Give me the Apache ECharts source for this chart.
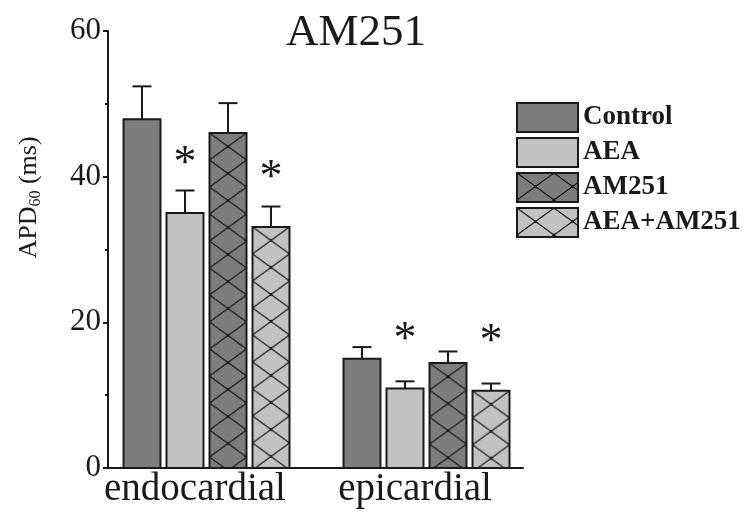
<!DOCTYPE html>
<html>
<head>
<meta charset="utf-8">
<script src="https://cdn.jsdelivr.net/npm/echarts@6/dist/echarts.min.js"></script>
<style>
  html, body { margin: 0; padding: 0; background: #fff; }
  #chart { width: 746px; height: 515px; }
</style>
</head>
<body>
<div id="chart"></div>
<script>
// Action potential duration (APD60, ms), mean and SEM per preparation
const categories = ['endocardial', 'epicardial'];
const seriesNames = ['Control', 'AEA', 'AM251', 'AEA+AM251'];

const controlMean  = [47.9, 15.0];
const controlErr   = [4.5, 1.6];
const aeaMean      = [35.0, 10.9];
const aeaErr       = [3.1, 1.0];
const am251Mean    = [46.0, 14.4];
const am251Err     = [4.1, 1.6];
const aeaAm251Mean = [33.1, 10.6];
const aeaAm251Err  = [2.8, 1.0];

// significance marks drawn above the bars
const aeaMarks      = ['*', '*'];
const aeaAm251Marks = ['*', '*'];

const yMin = 0, yMax = 60, yStep = 20;

// ---- styling ----
const FONT = '"Liberation Serif", "Times New Roman", serif';
const INK = '#1a1a1a';
const DARK = '#7d7d7d';
const LIGHT = '#c2c2c2';
const BAR_W = 37;      // bar width, px
const BAR_STEP = 43;   // distance between bar centres within a group
const CAP_W = 19;      // error-bar cap width
const STAR_GAP = 48;   // asterisk offset above bar top

function hatch(fill) {
  const w = 37, h = 27;
  const c = document.createElement('canvas');
  c.width = w; c.height = h;
  const g = c.getContext('2d');
  g.fillStyle = fill;
  g.fillRect(0, 0, w, h);
  g.strokeStyle = INK;
  g.lineWidth = 1.2;
  for (const dx of [-w, 0, w]) {
    for (const dy of [-h, 0, h]) {
      g.beginPath();
      g.moveTo(dx, dy); g.lineTo(dx + w, dy + h);
      g.moveTo(dx + w, dy); g.lineTo(dx, dy + h);
      g.stroke();
    }
  }
  g.fillStyle = INK;
  for (const [x, y] of [[0, 0], [w, 0], [0, h], [w, h], [w / 2, h / 2]]) {
    g.beginPath(); g.arc(x, y, 1.4, 0, Math.PI * 2); g.fill();
  }
  return { image: c, repeat: 'repeat' };
}

const groups = [
  { name: seriesNames[0], mean: controlMean,  err: controlErr,  marks: null,          fill: DARK },
  { name: seriesNames[1], mean: aeaMean,      err: aeaErr,      marks: aeaMarks,      fill: LIGHT },
  { name: seriesNames[2], mean: am251Mean,    err: am251Err,    marks: null,          fill: hatch(DARK) },
  { name: seriesNames[3], mean: aeaAm251Mean, err: aeaAm251Err, marks: aeaAm251Marks, fill: hatch(LIGHT) }
];

function makeRender(k, fill, marks) {
  return function (params, api) {
    const ci = api.value(0), v = api.value(1), e = api.value(2);
    const base = api.coord([ci, 0]);
    const top = api.coord([ci, v]);
    const cap = api.coord([ci, v + e]);
    const cx = Math.round(base[0] + (k - 1.5) * BAR_STEP);
    const x0 = cx - BAR_W / 2;
    const h = base[1] - top[1];
    const children = [
      { type: 'line', shape: { x1: cx, y1: top[1], x2: cx, y2: cap[1] },
        style: { stroke: INK, lineWidth: 2 } },
      { type: 'line', shape: { x1: cx - CAP_W / 2, y1: cap[1], x2: cx + CAP_W / 2, y2: cap[1] },
        style: { stroke: INK, lineWidth: 2 } },
      { type: 'group', x: x0, y: top[1], children: [
        { type: 'rect', shape: { x: 0, y: 0, width: BAR_W, height: h },
          style: { fill: fill, stroke: INK, lineWidth: 2 } }
      ] }
    ];
    if (marks && marks[params.dataIndex]) {
      children.push({
        type: 'text', x: cx, y: top[1] - STAR_GAP,
        style: { text: marks[params.dataIndex], font: '46px ' + FONT, fill: INK,
                 align: 'center', verticalAlign: 'middle' }
      });
    }
    return { type: 'group', children };
  };
}

const chart = echarts.init(document.getElementById('chart'), null, { renderer: 'canvas' });

const option = {
  backgroundColor: '#fff',
  animation: false,
  title: {
    text: 'AM251', left: 281, top: 6,
    textStyle: { fontFamily: FONT, fontSize: 45, fontWeight: 'normal', color: INK }
  },
  legend: {
    orient: 'vertical', left: 511, top: 97,
    icon: 'rect', itemWidth: 61, itemHeight: 29, itemGap: 4,
    selectedMode: false,
    textStyle: { fontFamily: FONT, fontSize: 27, fontWeight: 'bold', color: INK },
    data: groups.map(g => ({
      name: g.name,
      itemStyle: { color: g.fill, borderColor: INK, borderWidth: 2 }
    }))
  },
  grid: [
    // bars
    { left: 96, width: 440, top: 31, bottom: 47 },
    // visible axis frame
    { left: 108, width: 415, top: 31, bottom: 47 }
  ],
  xAxis: [
    {
      type: 'category', gridIndex: 0, data: categories,
      axisLine: { show: false }, axisTick: { show: false },
      axisLabel: { interval: 0, hideOverlap: false, fontFamily: FONT, fontSize: 39, color: INK,
                   margin: 2, padding: [0, 22, 0, 0] }
    },
    {
      type: 'value', gridIndex: 1, min: 0, max: 1,
      axisLine: { show: true, lineStyle: { color: INK, width: 2 } },
      axisTick: { show: false }, axisLabel: { show: false }, splitLine: { show: false }
    }
  ],
  yAxis: [
    { type: 'value', gridIndex: 0, min: yMin, max: yMax, interval: yStep, show: false },
    {
      type: 'value', gridIndex: 1, min: yMin, max: yMax, interval: yStep,
      axisLine: { show: true, lineStyle: { color: INK, width: 2 } },
      axisTick: { show: true, length: 5, lineStyle: { color: INK, width: 2 } },
      minorTick: { show: true, splitNumber: 2, length: 3, lineStyle: { color: INK, width: 2 } },
      splitLine: { show: false },
      axisLabel: { fontFamily: FONT, fontSize: 31, color: INK, margin: 7 },
      name: '{a|APD}{b|60}{a| (ms)}',
      nameLocation: 'middle', nameRotate: 90, nameGap: 64,
      nameTextStyle: {
        padding: [0, 0, 0, 104],
        rich: {
          a: { fontFamily: FONT, fontSize: 26, color: INK, lineHeight: 30 },
          b: { fontFamily: FONT, fontSize: 16, color: INK, lineHeight: 16, verticalAlign: 'bottom' }
        }
      }
    }
  ],
  series: groups.map((g, k) => ({
    type: 'custom', name: g.name,
    xAxisIndex: 0, yAxisIndex: 0,
    itemStyle: { color: g.fill, borderColor: INK, borderWidth: 2 },
    renderItem: makeRender(k, g.fill, g.marks),
    encode: { x: 0, y: 1 },
    data: g.mean.map((m, i) => [i, m, g.err[i]])
  }))
};

chart.setOption(option);
</script>
</body>
</html>
